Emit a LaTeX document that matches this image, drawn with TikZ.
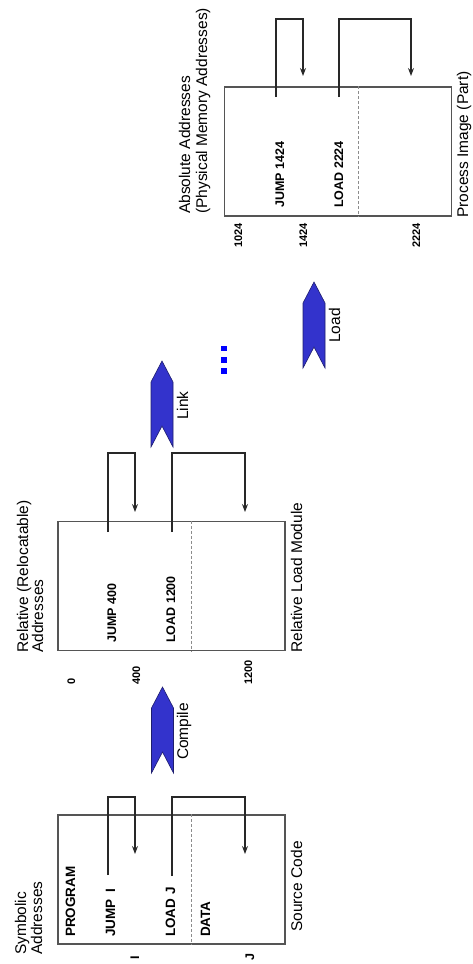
\documentclass[tikz,border=0pt]{standalone}
\usepackage{fontspec}
\setmainfont{Liberation Sans}
\usetikzlibrary{arrows.meta}

\definecolor{boxgray}{RGB}{85,85,85}
\definecolor{linegray}{RGB}{40,40,40}
\definecolor{divgray}{RGB}{140,140,140}
\definecolor{chevblue}{RGB}{51,51,204}
\definecolor{chevedge}{RGB}{30,30,110}
\definecolor{dotblue}{RGB}{0,0,255}

\begin{document}
\begin{tikzpicture}[x=1pt,y=-1pt,
  ttl/.style={rotate=90, inner sep=0pt, anchor=base west, font=\fontsize{15.5}{15.5}\selectfont},
  codebig/.style={rotate=90, inner sep=0pt, anchor=base west, font=\bfseries\fontsize{13.5}{13.5}\selectfont},
  code/.style={rotate=90, inner sep=0pt, anchor=base west, font=\bfseries\fontsize{12.5}{12.5}\selectfont},
  addr/.style={rotate=90, inner sep=0pt, anchor=base west, font=\bfseries\fontsize{11}{11}\selectfont},
  mem/.style={draw=boxgray, line width=1.1pt, minimum width=227pt, minimum height=129pt, inner sep=0pt},
  divider/.style={draw=divgray, line width=1pt, dash pattern=on 3pt off 2pt},
  ref/.style={draw=linegray, line width=1.1pt, -{Stealth[length=8pt,width=6pt]}},
  chev/.style={fill=chevblue, draw=chevedge, line width=0.6pt},
  chevron/.pic={\path[chev] (-11,86) -- (-11,21) -- (0,0) -- (11,21) -- (11,86) -- (0,65) -- cycle;}
]
\useasboundingbox (0,0) rectangle (472,964);

% ---------- memory boxes ----------
\node[mem] (src) at (171.5,879.5) {};
\node[mem] (rel) at (171.5,586) {};
\node[mem] (img) at (338,151.5) {};

% code/data boundaries
\draw[divider] ([xshift=134pt]src.north west) -- ([xshift=134pt]src.south west);
\draw[divider] ([xshift=134pt]rel.north west) -- ([xshift=134pt]rel.south west);
\draw[divider] ([xshift=135pt]img.north west) -- ([xshift=135pt]img.south west);

% ---------- titles ----------
\node[ttl] (symA) at (26,955) {Symbolic};
\node[ttl] (symB) at (42,955) {Addresses};
\node[ttl] (relA) at (28,653) {Relative (Relocatable)};
\node[ttl] (relB) at (43,653) {Addresses};
\node[ttl] (absA) at (190,214) {Absolute Addresses};
\node[ttl] (absB) at (207,214) {(Physical Memory Addresses)};

\node[ttl] (capSrc) at (302,932) {Source Code};
\node[ttl] (capRel) at (302,653) {Relative Load Module};
\node[ttl] (capImg) at (468,218) {Process Image (Part)};

% ---------- source code contents ----------
\node[codebig] (sProg) at (75,937) {PROGRAM};
\node[codebig] (sJump) at (115,937) {JUMP\hspace{7pt}I};
\node[codebig] (sLoad) at (175,937) {LOAD J};
\node[codebig] (sData) at (210,937) {DATA};
\node[code] (symI) at (139,960) {I};
\node[code] (symJ) at (254,961) {J};

% ---------- relative module contents ----------
\node[code] (rJump) at (116,643) {JUMP 400};
\node[code] (rLoad) at (175,643) {LOAD 1200};
\node[addr] (r0) at (75,685) {0};
\node[addr] (r400) at (140,685) {400};
\node[addr] (r1200) at (252,685) {1200};

% ---------- process image contents ----------
\node[code] (aJump) at (284,208) {JUMP 1424};
\node[code] (aLoad) at (343,208) {LOAD 2224};
\node[addr] (a1024) at (242,248) {1024};
\node[addr] (a1424) at (307,248) {1424};
\node[addr] (a2224) at (420,248) {2224};

% ---------- references ----------
\coordinate (sJ) at (108,875);  \coordinate (sJt) at (135,854);
\coordinate (sL) at (172,876);  \coordinate (sLt) at (245,854);
\draw[ref] (sJ) -- ++(0,-78) -| (sJt);
\draw[ref] (sL) -- ++(0,-79) -| (sLt);

\coordinate (rJ) at (108,532);  \coordinate (rJt) at (135,512);
\coordinate (rL) at (172,532);  \coordinate (rLt) at (245,512);
\draw[ref] (rJ) -- ++(0,-79) -| (rJt);
\draw[ref] (rL) -- ++(0,-79) -| (rLt);

\coordinate (aJ) at (276,97);   \coordinate (aJt) at (303,76);
\coordinate (aL) at (339,97);   \coordinate (aLt) at (411,76);
\draw[ref] (aJ) -- ++(0,-78) -| (aJt);
\draw[ref] (aL) -- ++(0,-78) -| (aLt);

% ---------- translation steps ----------
\pic at (162.5,687) {chevron};
\pic at (162,361) {chevron};
\pic at (314,282) {chevron};
\node[ttl] (stCompile) at (188,760) {Compile};
\node[ttl] (stLink) at (188,420) {Link};
\node[ttl] (stLoad) at (340,343) {Load};

% ellipsis between linking and loading
\fill[dotblue] (220.5,345.5) rectangle ++(6,5.5);
\fill[dotblue] (220.5,357.3) rectangle ++(6,5.5);
\fill[dotblue] (220.5,368.3) rectangle ++(6,5.5);
\end{tikzpicture}
\end{document}
